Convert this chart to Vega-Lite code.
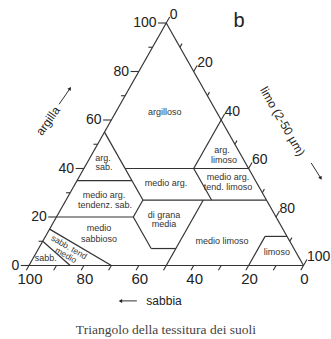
{
  "$schema": "https://vega.github.io/schema/vega-lite/v6.json",
  "width": 331,
  "height": 339,
  "autosize": {"type": "none"},
  "padding": 0,
  "background": "white",
  "config": {"view": {"stroke": null}, "text": {"font": "Liberation Sans", "color": "#222"}},
  "datasets": {
    "seg": [
      {"pos": 0, "clay": 0, "pos2": 100, "clay2": 0},
      {"pos": 100, "clay": 0, "pos2": 50, "clay2": 100},
      {"pos": 50, "clay": 100, "pos2": 0, "clay2": 0},
      {"pos": 70, "clay": 60, "pos2": 60, "clay2": 40},
      {"pos": 27.5, "clay": 55, "pos2": 41.5, "clay2": 27},
      {"pos": 35, "clay": 40, "pos2": 80, "clay2": 40},
      {"pos": 17.5, "clay": 35, "pos2": 37.5, "clay2": 35},
      {"pos": 60, "clay": 40, "pos2": 66.5, "clay2": 27},
      {"pos": 41.5, "clay": 27, "pos2": 86.5, "clay2": 27},
      {"pos": 41.5, "clay": 27, "pos2": 38, "clay2": 20},
      {"pos": 10, "clay": 20, "pos2": 38, "clay2": 20},
      {"pos": 38, "clay": 20, "pos2": 44.5, "clay2": 7},
      {"pos": 44.5, "clay": 7, "pos2": 53.5, "clay2": 7},
      {"pos": 63.5, "clay": 27, "pos2": 50, "clay2": 0},
      {"pos": 86, "clay": 12, "pos2": 94, "clay2": 12},
      {"pos": 86, "clay": 12, "pos2": 80, "clay2": 0},
      {"pos": 7.5, "clay": 15, "pos2": 30, "clay2": 0},
      {"pos": 5, "clay": 10, "pos2": 15, "clay2": 0}
    ],
    "ticks": [
      {"pos": 0, "clay": 0, "pos2": -3, "clay2": 0},
      {"pos": 5, "clay": 10, "pos2": 3.5, "clay2": 10},
      {"pos": 10, "clay": 20, "pos2": 7, "clay2": 20},
      {"pos": 15, "clay": 30, "pos2": 13.5, "clay2": 30},
      {"pos": 20, "clay": 40, "pos2": 17, "clay2": 40},
      {"pos": 25, "clay": 50, "pos2": 23.5, "clay2": 50},
      {"pos": 30, "clay": 60, "pos2": 27, "clay2": 60},
      {"pos": 35, "clay": 70, "pos2": 33.5, "clay2": 70},
      {"pos": 40, "clay": 80, "pos2": 37, "clay2": 80},
      {"pos": 45, "clay": 90, "pos2": 43.5, "clay2": 90},
      {"pos": 50, "clay": 100, "pos2": 47, "clay2": 100},
      {"pos": 50, "clay": 100, "pos2": 51.25, "clay2": 102.5},
      {"pos": 55, "clay": 90, "pos2": 55.75, "clay2": 91.5},
      {"pos": 60, "clay": 80, "pos2": 61.25, "clay2": 82.5},
      {"pos": 65, "clay": 70, "pos2": 65.75, "clay2": 71.5},
      {"pos": 70, "clay": 60, "pos2": 71.25, "clay2": 62.5},
      {"pos": 75, "clay": 50, "pos2": 75.75, "clay2": 51.5},
      {"pos": 80, "clay": 40, "pos2": 81.25, "clay2": 42.5},
      {"pos": 85, "clay": 30, "pos2": 85.75, "clay2": 31.5},
      {"pos": 90, "clay": 20, "pos2": 91.25, "clay2": 22.5},
      {"pos": 95, "clay": 10, "pos2": 95.75, "clay2": 11.5},
      {"pos": 100, "clay": 0, "pos2": 101.25, "clay2": 2.5},
      {"pos": 0, "clay": 0, "pos2": -1, "clay2": -2},
      {"pos": 10, "clay": 0, "pos2": 9, "clay2": -2},
      {"pos": 20, "clay": 0, "pos2": 19, "clay2": -2},
      {"pos": 30, "clay": 0, "pos2": 29, "clay2": -2},
      {"pos": 40, "clay": 0, "pos2": 39, "clay2": -2},
      {"pos": 50, "clay": 0, "pos2": 49, "clay2": -2},
      {"pos": 60, "clay": 0, "pos2": 59, "clay2": -2},
      {"pos": 70, "clay": 0, "pos2": 69, "clay2": -2},
      {"pos": 80, "clay": 0, "pos2": 79, "clay2": -2},
      {"pos": 90, "clay": 0, "pos2": 89, "clay2": -2},
      {"pos": 100, "clay": 0, "pos2": 99, "clay2": -2}
    ],
    "arrows": [
      {"pos": 10.96, "clay": 66.5, "pos2": 14.94, "clay2": 72.99},
      {"pos": 102.8, "clay": 42.3, "pos2": 106.3, "clay2": 36.0},
      {"pos": 39.3, "clay": -14.6, "pos2": 33.3, "clay2": -14.6}
    ],
    "classes": [
      {"pos": 49.5, "clay": 63.3, "label": "argilloso"},
      {"pos": 27.0, "clay": 44.3, "label": "arg."},
      {"pos": 27.3, "clay": 40.6, "label": "sab."},
      {"pos": 70.3, "clay": 47.6, "label": "arg."},
      {"pos": 71.0, "clay": 43.5, "label": "limoso"},
      {"pos": 49.9, "clay": 34.0, "label": "medio arg."},
      {"pos": 72.5, "clay": 36.5, "label": "medio arg."},
      {"pos": 72.5, "clay": 32.4, "label": "tend. limoso"},
      {"pos": 27.3, "clay": 29.1, "label": "medio arg."},
      {"pos": 27.7, "clay": 24.9, "label": "tendenz. sab."},
      {"pos": 49.2, "clay": 20.8, "label": "di grana"},
      {"pos": 49.2, "clay": 17.1, "label": "media"},
      {"pos": 25.5, "clay": 15.5, "label": "medio"},
      {"pos": 25.5, "clay": 10.9, "label": "sabbioso"},
      {"pos": 70.3, "clay": 10.1, "label": "medio limoso"},
      {"pos": 90.3, "clay": 5.6, "label": "limoso"},
      {"pos": 6.1, "clay": 3.2, "label": "sabb."}
    ],
    "rotclasses": [
      {"pos": 14.64, "clay": 7.63, "label": "sabb. tend"},
      {"pos": 13.48, "clay": 4.33, "label": "medio"}
    ],
    "leftlab": [
      {"pos": -3, "clay": 0, "label": "0"},
      {"pos": 7, "clay": 20, "label": "20"},
      {"pos": 17, "clay": 40, "label": "40"},
      {"pos": 27, "clay": 60, "label": "60"},
      {"pos": 37, "clay": 80, "label": "80"},
      {"pos": 47, "clay": 100, "label": "100"}
    ],
    "rightlab": [
      {"pos": 51.25, "clay": 102.5, "label": "0"},
      {"pos": 61.25, "clay": 82.5, "label": "20"},
      {"pos": 71.25, "clay": 62.5, "label": "40"},
      {"pos": 81.25, "clay": 42.5, "label": "60"},
      {"pos": 91.25, "clay": 22.5, "label": "80"},
      {"pos": 101.25, "clay": 2.5, "label": "100"}
    ],
    "bottomlab": [
      {"pos": 0, "clay": 0, "label": "100"},
      {"pos": 20, "clay": 0, "label": "80"},
      {"pos": 40, "clay": 0, "label": "60"},
      {"pos": 60, "clay": 0, "label": "40"},
      {"pos": 80, "clay": 0, "label": "20"},
      {"pos": 100, "clay": 0, "label": "0"}
    ]
  },
  "encoding": {
    "x": {"field": "pos", "type": "quantitative", "scale": {"domain": [-10.565, 110.018], "nice": false, "zero": false}, "axis": null},
    "y": {"field": "clay", "type": "quantitative", "scale": {"domain": [-30.309, 109.485], "nice": false, "zero": false}, "axis": null}
  },
  "layer": [
    {
      "data": {"name": "seg"},
      "mark": {"type": "rule", "color": "#333", "strokeWidth": 1.2},
      "encoding": {"x2": {"field": "pos2"}, "y2": {"field": "clay2"}}
    },
    {
      "data": {"name": "ticks"},
      "mark": {"type": "rule", "color": "#333", "strokeWidth": 1.1},
      "encoding": {"x2": {"field": "pos2"}, "y2": {"field": "clay2"}}
    },
    {
      "data": {"name": "arrows"},
      "mark": {"type": "rule", "color": "#333", "strokeWidth": 1},
      "encoding": {"x2": {"field": "pos2"}, "y2": {"field": "clay2"}}
    },
    {
      "data": {"values": [{"pos": 14.94, "clay": 72.99}]},
      "mark": {"type": "point", "shape": "triangle-up", "filled": true, "size": 16, "angle": 35, "color": "#222", "opacity": 1}
    },
    {
      "data": {"values": [{"pos": 106.3, "clay": 36.0}]},
      "mark": {"type": "point", "shape": "triangle-up", "filled": true, "size": 16, "angle": 148, "color": "#222", "opacity": 1}
    },
    {
      "data": {"values": [{"pos": 33.3, "clay": -14.6}]},
      "mark": {"type": "point", "shape": "triangle-up", "filled": true, "size": 16, "angle": 270, "color": "#222", "opacity": 1}
    },
    {
      "data": {"name": "classes"},
      "mark": {"type": "text", "fontSize": 9, "color": "#333", "align": "center", "baseline": "middle"},
      "encoding": {"text": {"field": "label"}}
    },
    {
      "data": {"name": "rotclasses"},
      "mark": {"type": "text", "fontSize": 8.5, "color": "#333", "align": "center", "baseline": "middle", "angle": 30},
      "encoding": {"text": {"field": "label"}}
    },
    {
      "data": {"name": "leftlab"},
      "mark": {"type": "text", "fontSize": 14, "align": "right", "baseline": "middle", "dx": -1.5},
      "encoding": {"text": {"field": "label"}}
    },
    {
      "data": {"name": "rightlab"},
      "mark": {"type": "text", "fontSize": 14, "align": "left", "baseline": "alphabetic", "dy": 2},
      "encoding": {"text": {"field": "label"}}
    },
    {
      "data": {"name": "bottomlab"},
      "mark": {"type": "text", "fontSize": 15, "align": "center", "baseline": "alphabetic", "dx": 1, "dy": 18},
      "encoding": {"text": {"field": "label"}}
    },
    {
      "data": {"values": [{"pos": 6.92, "clay": 59.6, "label": "argilla"}]},
      "mark": {"type": "text", "fontSize": 12, "align": "center", "baseline": "middle", "angle": -55},
      "encoding": {"text": {"field": "label"}}
    },
    {
      "data": {"values": [{"pos": 92.35, "clay": 59.4, "label": "limo (2-50 µm)"}]},
      "mark": {"type": "text", "fontSize": 12, "align": "center", "baseline": "middle", "angle": 60},
      "encoding": {"text": {"field": "label"}}
    },
    {
      "data": {"values": [{"pos": 49.2, "clay": -14.6, "label": "sabbia"}]},
      "mark": {"type": "text", "fontSize": 12, "align": "center", "baseline": "middle"},
      "encoding": {"text": {"field": "label"}}
    },
    {
      "data": {"values": [{"pos": 76.5, "clay": 100.8, "label": "b"}]},
      "mark": {"type": "text", "fontSize": 20, "align": "center", "baseline": "middle"},
      "encoding": {"text": {"field": "label"}}
    },
    {
      "data": {"values": [{"pos": 49.9, "clay": -26.6, "label": "Triangolo della tessitura dei suoli"}]},
      "mark": {"type": "text", "font": "Liberation Serif", "fontSize": 13.5, "color": "#444", "align": "center", "baseline": "middle"},
      "encoding": {"text": {"field": "label"}}
    }
  ]
}
